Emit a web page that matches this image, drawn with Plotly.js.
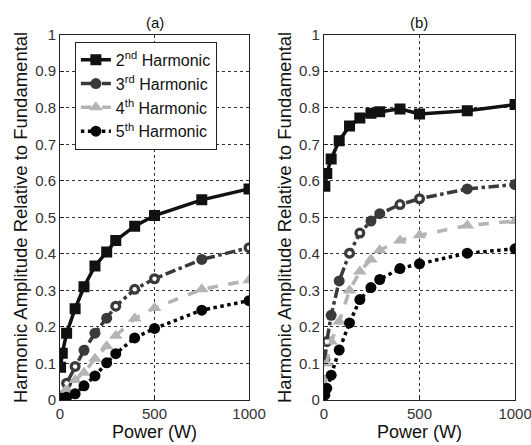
<!DOCTYPE html>
<html>
<head>
<meta charset="utf-8">
<script src="https://cdn.plot.ly/plotly-3.0.1.min.js"></script>
<style>html,body{margin:0;padding:0;background:#fff}#chart{width:531px;height:445px}</style>
</head>
<body>
<div id="chart"></div>
<script>
// Power levels (W)
var powerA = [3, 12, 35, 80, 127, 185, 247, 295, 395, 500, 750, 1000];
var powerB = [5, 15, 38, 80, 134, 188, 246, 292, 398, 500, 750, 1000];

// Panel (a)
var h2a = [0.09, 0.128, 0.183, 0.25, 0.31, 0.367, 0.405, 0.437, 0.476, 0.505, 0.548, 0.578];
var h3a = [0.004, 0.012, 0.046, 0.092, 0.136, 0.183, 0.224, 0.257, 0.303, 0.332, 0.385, 0.417];
var h4a = [0.003, 0.01, 0.03, 0.055, 0.075, 0.113, 0.147, 0.176, 0.223, 0.252, 0.303, 0.328];
var h5a = [0.002, 0.005, 0.008, 0.017, 0.039, 0.066, 0.102, 0.127, 0.17, 0.196, 0.246, 0.272];

// Panel (b)
var h2b = [0.585, 0.62, 0.66, 0.71, 0.75, 0.772, 0.785, 0.789, 0.797, 0.783, 0.792, 0.809];
var h3b = [0.11, 0.16, 0.232, 0.326, 0.402, 0.457, 0.49, 0.51, 0.535, 0.551, 0.578, 0.59];
var h4b = [0.04, 0.1, 0.16, 0.215, 0.3, 0.352, 0.385, 0.41, 0.437, 0.451, 0.478, 0.49];
var h5b = [0.014, 0.032, 0.068, 0.137, 0.211, 0.275, 0.308, 0.33, 0.36, 0.373, 0.402, 0.414];

var seriesNames = ['2<sup>nd</sup> Harmonic', '3<sup>rd</sup> Harmonic', '4<sup>th</sup> Harmonic', '5<sup>th</sup> Harmonic'];
var xTicks = [0, 500, 1000];
var xTickText = ['0', '500', '1000'];
var yTicks = [0, 0.1, 0.2, 0.3, 0.4, 0.5, 0.6, 0.7, 0.8, 0.9, 1];
var yTickText = ['0', '0.1', '0.2', '0.3', '0.4', '0.5', '0.6', '0.7', '0.8', '0.9', '1'];

// which 3rd-harmonic markers appear hollow (white centre) in each panel
var hollow3a = [2, 3, 7, 8, 9, 11];
var hollow3b = [1, 4, 5, 8, 9];

var styles = [
  {color: '#111111', dash: 'solid', symbol: 'square', size: 11},
  {color: '#3a3a3a', dash: 'dashdot', symbol: 'circle', size: 11},
  {color: '#b4b4b4', dash: 'dash', symbol: 'triangle-up', size: 12},
  {color: '#050505', dash: 'dot', symbol: 'circle', size: 11}
];

function mk(x, y, i, ax, show) {
  var s = styles[i];
  return {
    x: x, y: y, type: 'scatter', mode: 'lines+markers',
    name: seriesNames[i], showlegend: show, legendgroup: 'g' + i,
    xaxis: ax[0], yaxis: ax[1],
    line: {color: s.color, width: 3.5, dash: s.dash},
    marker: {color: s.color, symbol: s.symbol, size: s.size}
  };
}
function holes(x, y, idx, ax) {
  return {
    x: idx.map(function (k) { return x[k]; }),
    y: idx.map(function (k) { return y[k]; }),
    type: 'scatter', mode: 'markers', showlegend: false, hoverinfo: 'skip',
    xaxis: ax[0], yaxis: ax[1],
    marker: {color: '#ffffff', symbol: 'circle', size: 4.5}
  };
}

var A = [h2a, h3a, h4a, h5a];
var B = [h2b, h3b, h4b, h5b];
var traces = [];
for (var i = 0; i < 4; i++) traces.push(mk(powerA, A[i], i, ['x', 'y'], true));
for (var j = 0; j < 4; j++) traces.push(mk(powerB, B[j], j, ['x2', 'y2'], false));
traces.push(holes(powerA, h3a, hollow3a, ['x', 'y']));
traces.push(holes(powerB, h3b, hollow3b, ['x2', 'y2']));

var font = 'Liberation Sans, Arial, sans-serif';
function xa(domain, anchor) {
  return {
    domain: domain, anchor: anchor, range: [0, 1000], tickvals: xTicks, ticktext: xTickText,
    showgrid: true, gridcolor: '#333', griddash: 'dot', gridwidth: 1,
    zeroline: false, showline: true, mirror: true, linecolor: '#222', linewidth: 1,
    ticks: 'inside', ticklen: 4, tickcolor: '#222',
    ticklabeloverflow: 'allow',
    tickfont: {family: font, size: 15, color: '#333'},
    title: {text: 'Power (W)', font: {family: font, size: 18, color: '#111'}, standoff: 2}
  };
}
function ya(domain, anchor) {
  return {
    domain: domain, anchor: anchor, range: [0, 1], tickvals: yTicks, ticktext: yTickText,
    showgrid: true, gridcolor: '#333', griddash: 'dot', gridwidth: 1,
    zeroline: false, showline: true, mirror: true, linecolor: '#222', linewidth: 1,
    ticks: 'inside', ticklen: 4, tickcolor: '#222',
    tickfont: {family: font, size: 15, color: '#333'},
    title: {text: 'Harmonic Amplitude Relative to Fundamental', font: {family: font, size: 18.5, color: '#111'}, standoff: 2}
  };
}

var yDom = [0.101, 0.922];
var layout = {
  width: 531, height: 445,
  margin: {l: 0, r: 0, t: 0, b: 0},
  paper_bgcolor: '#fff', plot_bgcolor: '#fff',
  xaxis: xa([0.113, 0.469], 'y'),
  yaxis: ya(yDom, 'x'),
  xaxis2: xa([0.610, 0.970], 'y2'),
  yaxis2: ya(yDom, 'x2'),
  showlegend: true,
  legend: {
    x: 0.141, y: 0.906, xanchor: 'left', yanchor: 'top',
    bgcolor: '#fff', bordercolor: '#222', borderwidth: 1,
    font: {family: font, size: 16, color: '#111'},
    itemwidth: 30, tracegroupgap: 0
  },
  annotations: [
    {text: '(a)', xref: 'paper', yref: 'paper', x: 0.291, y: 0.925, xanchor: 'center', yanchor: 'bottom', showarrow: false, font: {family: font, size: 15, color: '#111'}},
    {text: '(b)', xref: 'paper', yref: 'paper', x: 0.79, y: 0.925, xanchor: 'center', yanchor: 'bottom', showarrow: false, font: {family: font, size: 15, color: '#111'}}
  ]
};

Plotly.newPlot('chart', traces, layout, {displayModeBar: false, staticPlot: true});
</script>
</body>
</html>
